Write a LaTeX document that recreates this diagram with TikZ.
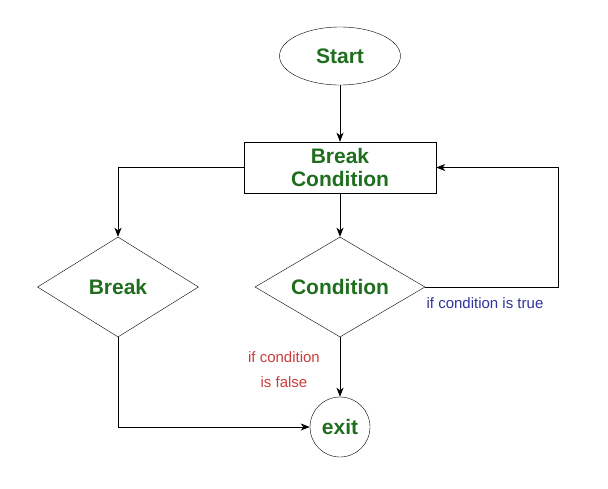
\documentclass[tikz,border=0pt]{standalone}
\usepackage{fontspec}
\setmainfont{Liberation Sans}
\usetikzlibrary{
  arrows.meta,
  positioning,
  shapes.geometric
}
\definecolor{stepgreen}{RGB}{30,110,30}
\definecolor{trueblue}{RGB}{50,50,160}
\definecolor{falsered}{RGB}{205,60,60}
\tikzset{
  flowtext/.style={
    font=\fontsize{21}{23}\selectfont\bfseries,
    text=stepgreen
  },
  startnode/.style={ellipse,draw,minimum width=121pt,minimum height=58pt,inner sep=0pt,flowtext},
  procbox/.style={rectangle,draw,minimum width=192pt,minimum height=51pt,inner sep=0pt,align=center,flowtext},
  decision/.style={diamond,draw,aspect=1.7,inner sep=2pt,minimum height=100pt,flowtext},
  endnode/.style={circle,draw,minimum size=60pt,inner sep=0pt,flowtext},
  branchnote/.style={font=\fontsize{15}{25}\selectfont,align=center,inner sep=0pt},
  flowarrow/.style={-{Stealth[length=9pt,width=7pt,inset=2.5pt]},line width=1pt},
}

\begin{document}
\begin{tikzpicture}[x=1pt,y=-1pt]
  \useasboundingbox (0,0) rectangle (608,488);

  % Main column
  \node[startnode] (start) at (340,56) {Start};
  \node[procbox] (bcond) at (340,167.5) {Break\\Condition};
  \node[decision,minimum width=170pt] (cond) at (340,287) {Condition};
  \node[endnode] (exit) at (340,427) {exit};

  % Left branch
  \node[decision,minimum width=161pt] (brk) at (118,287) {Break};

  % Notes
  \node[branchnote,text=trueblue] (truenote) at (485,303) {if condition is true};
  \node[branchnote,text=falsered] (falsenote) at (284,370) {if condition\\is false};

  \coordinate (loop) at (558,287);

  \draw[flowarrow] (start) -- (bcond);
  \draw[flowarrow] (bcond.west) -| (brk.north);
  \draw[flowarrow] (bcond) -- (cond);
  \draw[flowarrow] (cond.east) -- (loop) |- (bcond.east);
  \draw[flowarrow] (brk.south) |- (exit.west);
  \draw[flowarrow] (cond) -- (exit);
\end{tikzpicture}
\end{document}
